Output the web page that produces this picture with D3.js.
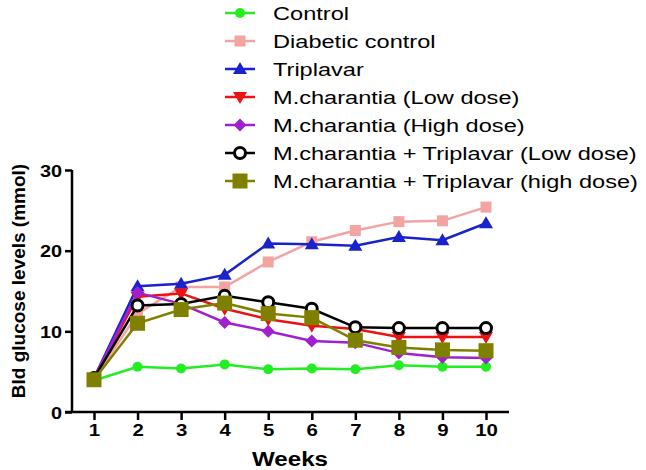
<!DOCTYPE html>
<html><head><meta charset="utf-8">
<script src="https://cdn.jsdelivr.net/npm/d3@7"></script>
<style>body{margin:0;background:#fff}svg{display:block}text{font-family:"Liberation Sans",Arial,sans-serif}</style>
</head><body><svg id="c" width="646" height="470"></svg>
<script>
const weeks = [1,2,3,4,5,6,7,8,9,10];
const yTicks = [0,10,20,30];
const seriesNames = ["Control","Diabetic control","Triplavar","M.charantia (Low dose)","M.charantia (High dose)","M.charantia + Triplavar (Low dose)","M.charantia + Triplavar (high dose)"];
const control   = [3.9,5.6,5.4,5.9,5.3,5.4,5.3,5.8,5.6,5.6];
const diabetic  = [4.0,12.2,15.5,15.5,18.6,21.1,22.5,23.6,23.7,25.4];
const triplavar = [4.2,15.6,15.9,17.0,20.9,20.8,20.6,21.7,21.3,23.4];
const mcLow     = [4.2,14.3,14.7,12.8,11.5,10.7,10.3,9.3,9.3,9.3];
const mcHigh    = [4.2,14.8,13.4,11.1,10.0,8.8,8.6,7.3,6.8,6.7];
const mctLow    = [4.2,13.2,13.4,14.4,13.6,12.8,10.5,10.4,10.4,10.4];
const mctHigh   = [4.0,11.0,12.7,13.5,12.2,11.7,8.9,8.0,7.7,7.6];
const seriesValues = [control,diabetic,triplavar,mcLow,mcHigh,mctLow,mctHigh];
const colors = ["#22ee22","#f4a3a3","#1a22cc","#ee1111","#a020d0","#000000","#808000"];
const shapes = ["circle","square","triangle","triangleDown","diamond","ring","bigSquare"];

const svg = d3.select("#c");
const x = d3.scaleLinear().domain([1,10]).range([94,486]);
const y = d3.scaleLinear().domain([0,30]).range([412,170]);

// axes
const yAxis = d3.axisLeft(y).tickValues(yTicks).tickSize(7).tickPadding(3);
const gy = svg.append("g").attr("transform","translate(72,0)").call(yAxis);
const xAxis = d3.axisBottom(x).tickValues(weeks).tickSize(8).tickPadding(4);
const gx = svg.append("g").attr("transform","translate(0,412)").call(xAxis);
gx.select(".domain").attr("d","M65,0H509");
gy.select(".domain").attr("d","M0,170V412");
[gx,gy].forEach(g=>{
  g.selectAll("path,line").attr("stroke","#000").attr("stroke-width",2.5);
  g.selectAll("text").attr("font-size",17).attr("font-weight","bold").attr("fill","#000")
   .style("font-family","'Liberation Sans',Arial,sans-serif");
});
gy.selectAll("text").attr("dy","0.36em").attr("x",0).attr("transform","translate(-10,0) scale(1.17,1)");
gx.selectAll("text").attr("transform","scale(1.2,1)");

svg.append("text").attr("transform","translate(290,466) scale(1.15,1)").attr("text-anchor","middle")
  .attr("font-size",21).attr("font-weight","bold").text("Weeks");
svg.append("text").attr("transform","translate(25,281) rotate(-90)").attr("text-anchor","middle")
  .attr("font-size",19).attr("font-weight","bold").text("Bld glucose levels (mmol)");

function marker(g, shape, color, cx, cy){
  if(shape==="circle") g.append("circle").attr("cx",cx).attr("cy",cy).attr("r",5).attr("fill",color);
  else if(shape==="square") g.append("rect").attr("x",cx-5.5).attr("y",cy-5.5).attr("width",11).attr("height",11).attr("fill",color);
  else if(shape==="bigSquare") g.append("rect").attr("x",cx-7.5).attr("y",cy-7.5).attr("width",15).attr("height",15).attr("fill",color);
  else if(shape==="triangle") g.append("path").attr("d",`M${cx},${cy-7}L${cx+7},${cy+5}L${cx-7},${cy+5}Z`).attr("fill",color);
  else if(shape==="triangleDown") g.append("path").attr("d",`M${cx},${cy+7}L${cx+7},${cy-5}L${cx-7},${cy-5}Z`).attr("fill",color);
  else if(shape==="diamond") g.append("path").attr("d",`M${cx},${cy-6.5}L${cx+6.5},${cy}L${cx},${cy+6.5}L${cx-6.5},${cy}Z`).attr("fill",color);
  else if(shape==="ring") g.append("circle").attr("cx",cx).attr("cy",cy).attr("r",5.5).attr("fill","#fff").attr("stroke",color).attr("stroke-width",3);
}

const line = d3.line().x((d,i)=>x(weeks[i])).y(d=>y(d));
seriesValues.forEach((vals,k)=>{
  const g = svg.append("g");
  g.append("path").attr("d",line(vals)).attr("fill","none").attr("stroke",colors[k]).attr("stroke-width",2.5);
  vals.forEach((v,i)=>marker(g,shapes[k],colors[k],x(weeks[i]),y(v)));
});

// legend
const lg = svg.append("g");
seriesNames.forEach((n,k)=>{
  const cy = 13 + k*28;
  lg.append("line").attr("x1",225).attr("x2",255).attr("y1",cy).attr("y2",cy).attr("stroke",colors[k]).attr("stroke-width",2.5);
  marker(lg,shapes[k],colors[k],240,cy);
  lg.append("text").attr("transform",`translate(273,${cy}) scale(1.275,1)`).attr("dy","0.36em").attr("font-size",18.5).attr("fill","#000").text(n);
});
</script></body></html>
